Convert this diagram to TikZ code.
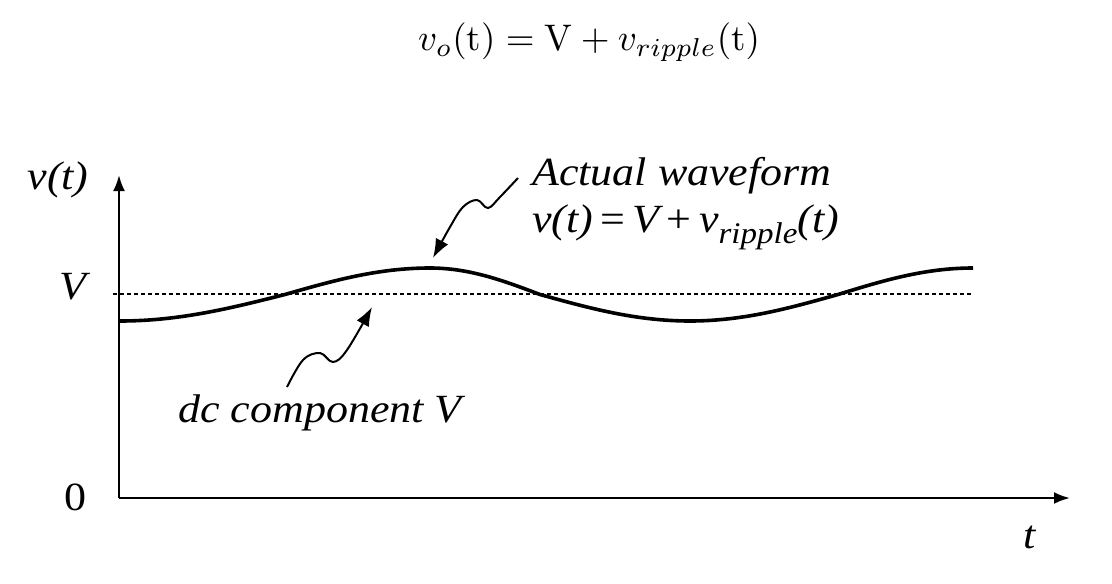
\documentclass[tikz,border=0pt]{standalone}
\usepackage{fontspec}
\usepackage{graphicx}
\newfontfamily\labfont{Liberation Serif}
\newcommand\wx[1]{\scalebox{1.1}[1]{#1}}
\usetikzlibrary{arrows.meta}
\begin{document}
\begin{tikzpicture}[x=1pt,y=-1pt,
  lab/.style={inner sep=0pt,font=\labfont\fontsize{40}{44}\selectfont\itshape},
  axisline/.style={line width=2.4pt,-{Latex[length=16pt,width=12pt]}},
  wave/.style={line width=3.6pt},
  dcline/.style={line width=1.6pt,dash pattern=on 4pt off 3pt},
  pointer/.style={line width=2pt,-{Latex[length=19pt,width=14pt]}}]
\useasboundingbox (0,0) rectangle (1112,584);
% title
\node[inner sep=0pt] (title) at (589,42)
  {\scalebox{3.7}{$v_o(\mathrm{t}) = \mathrm{V} + v_{ripple}(\mathrm{t})$}};
% axes
\coordinate (O) at (119,498);
\coordinate (ytop) at (119,175);
\coordinate (xend) at (1070,498);
\draw[axisline] (O) -- (ytop);
\draw[axisline] (O) -- (xend);
% labels
\node[lab] (vt) at (58,180) {\wx{v(t)}};
\node[lab] (Vlab) at (73,287) {\wx{V}};
\node[lab,font=\labfont\fontsize{40}{44}\selectfont] (zero) at (75,497) {\wx{0}};
\node[lab] (tlab) at (1030,537) {\wx{t}};
% dc component
\coordinate (dcA) at (113,294);
\coordinate (dcB) at (973,294);
\draw[dcline] (dcA) -- (dcB);
% waveform
\coordinate (w0) at (120,321);
\coordinate (w1) at (285,294.5);
\coordinate (w2) at (430,268);
\coordinate (w3) at (540,294.5);
\coordinate (w4) at (690,321);
\coordinate (w5) at (838,294.5);
\coordinate (w6) at (973,268);
\draw[wave] (w0) cos (w1) sin (w2) cos (w3) sin (w4) cos (w5) sin (w6);
% annotations
\node[lab,anchor=base west] (act1) at (532,185) {\wx{Actual waveform}};
\node[lab,anchor=base west] (act2) at (532,232)
  {\wx{v(t)\,\upshape{=}\,\itshape V\,\upshape{+}\,\itshape v\raisebox{-0.28em}{\fontsize{30}{32}\selectfont ripple}(t)}};
\node[lab,anchor=base west] (dclab) at (178,422) {\wx{dc component V}};
\coordinate (aTail) at (518,178);
\coordinate (aTip) at (433,258);
\draw[pointer] plot[smooth,tension=0.6] coordinates
  {(aTail) (500,197) (488,208) (477,200) (463,207) (450,227) (aTip)};
\coordinate (dTail) at (287,387);
\coordinate (dTip) at (372,307);
\draw[pointer] plot[smooth,tension=0.6] coordinates
  {(dTail) (303,360) (320,353) (333,362) (347,350) (dTip)};
\end{tikzpicture}
\end{document}
